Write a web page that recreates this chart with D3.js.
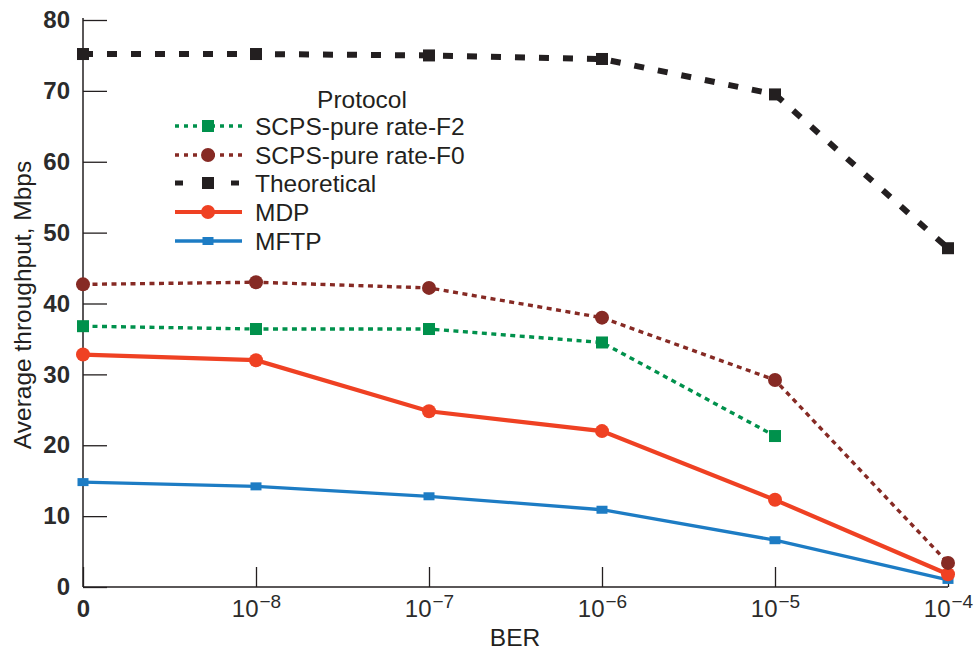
<!DOCTYPE html>
<html><head><meta charset="utf-8">
<script src="https://cdn.jsdelivr.net/npm/d3@7"></script>
<style>body{margin:0;background:#fff}svg{display:block}text{font-family:"Liberation Sans",Arial,Helvetica,sans-serif;fill:#231f20}</style>
</head><body><svg id="c" width="975" height="654"></svg>
<script>
const categories = ["0", "-8", "-7", "-6", "-5", "-4"];
const yTicks = [0, 10, 20, 30, 40, 50, 60, 70, 80];
const theoretical = [75.2, 75.2, 75.0, 74.5, 69.5, 47.8];
const scpsF0 = [42.7, 43.0, 42.2, 38.0, 29.2, 3.4];
const scpsF2 = [36.8, 36.4, 36.4, 34.5, 21.3, null];
const mdp = [32.8, 32.0, 24.8, 22.0, 12.3, 1.8];
const mftp = [14.8, 14.2, 12.8, 10.9, 6.6, 1.0];
const seriesNames = ["SCPS-pure rate-F2", "SCPS-pure rate-F0", "Theoretical", "MDP", "MFTP"];

const svg = d3.select("#c");
const x = d3.scalePoint().domain(categories).range([83, 948]);
const y = d3.scaleLinear().domain([0, 80]).range([587, 20]);
const ink = "#231f20";
const FS = 24.5;

const series = [
  {name: seriesNames[0], data: scpsF2, color: "#00914c", width: 3.4, dash: "5,4.5", marker: "square", size: 12},
  {name: seriesNames[1], data: scpsF0, color: "#862a24", width: 3.4, dash: "5,4.5", marker: "circle", size: 7},
  {name: seriesNames[2], data: theoretical, color: ink, width: 6, dash: "10,14", marker: "square", size: 12},
  {name: seriesNames[3], data: mdp, color: "#ef4123", width: 4.2, dash: null, marker: "circle", size: 7},
  {name: seriesNames[4], data: mftp, color: "#1d7cc4", width: 3.3, dash: null, marker: "rect", size: 11}
];

// axes
const yAxis = d3.axisLeft(y).tickValues(yTicks).tickSize(-24).tickPadding(13).tickFormat(d3.format("d"));
const gy = svg.append("g").attr("transform", "translate(83,0)").call(yAxis);
gy.select(".domain").attr("stroke", ink).attr("stroke-width", 1.5).attr("d", "M0,18V587");
gy.selectAll(".tick line").attr("stroke", ink).attr("stroke-width", 1.3);
gy.selectAll(".tick text").attr("font-size", 24).attr("font-weight", "bold").style("fill", "#2b2b2b");

const xAxis = d3.axisBottom(x).tickSize(-20).tickPadding(12).tickFormat(() => "");
const gx = svg.append("g").attr("transform", "translate(0,587)").call(xAxis);
gx.select(".domain").attr("stroke", ink).attr("stroke-width", 1.5).attr("d", "M83,0H948");
gx.selectAll(".tick line").attr("stroke", ink).attr("stroke-width", 1.3);
gx.selectAll(".tick").each(function(d) {
  const t = d3.select(this).select("text").attr("font-size", 24).attr("y", 13).attr("dy", "0.71em").style("fill", "#2b2b2b");
  if (d === "0") { t.attr("font-weight", "bold").text("0"); }
  else {
    t.append("tspan").text("10");
    t.append("tspan").attr("font-size", 19).attr("dy", "-0.5em").attr("dx", "1").text("\u2212" + d.slice(1));
  }
});

svg.append("text").attr("x", 515).attr("y", 646).attr("text-anchor", "middle").attr("font-size", FS).text("BER");
svg.append("text").attr("transform", "translate(31,305) rotate(-90)").attr("text-anchor", "middle").attr("font-size", FS).text("Average throughput, Mbps");

// lines
const line = d3.line().defined(d => d.v != null).x(d => x(d.c)).y(d => y(d.v));
function drawMarker(g, s, cx, cy) {
  if (s.marker === "circle") g.append("circle").attr("cx", cx).attr("cy", cy).attr("r", s.size).attr("fill", s.color);
  else if (s.marker === "square") g.append("rect").attr("x", cx - s.size/2).attr("y", cy - s.size/2).attr("width", s.size).attr("height", s.size).attr("fill", s.color);
  else g.append("rect").attr("x", cx - s.size/2).attr("y", cy - 4).attr("width", s.size).attr("height", 8).attr("fill", s.color);
}
const order = [4, 3, 0, 1, 2];
order.forEach(i => {
  const s = series[i];
  const pts = s.data.map((v, j) => ({c: categories[j], v}));
  const g = svg.append("g");
  g.append("path").attr("d", line(pts)).attr("fill", "none").attr("stroke", s.color)
    .attr("stroke-width", s.width).attr("stroke-dasharray", s.dash);
  pts.filter(p => p.v != null).forEach(p => drawMarker(g, s, x(p.c), y(p.v)));
});

// legend
const lg = svg.append("g");
lg.append("text").attr("x", 362).attr("y", 108).attr("text-anchor", "middle").attr("font-size", FS).text("Protocol");
const ly = [126, 155, 183, 212, 241];
series.forEach((s, i) => {
  const g = lg.append("g");
  g.append("line").attr("x1", 175).attr("x2", 242).attr("y1", ly[i]).attr("y2", ly[i])
    .attr("stroke", s.color).attr("stroke-width", s.width === 6 ? 5 : s.width).attr("stroke-dasharray", s.dash ? (s.width === 6 ? "8,20" : "4,5") : null);
  drawMarker(g, s, 208, ly[i]);
  g.append("text").attr("x", 255).attr("y", ly[i]).attr("dy", "0.36em").attr("font-size", FS).text(s.name);
});
</script></body></html>
